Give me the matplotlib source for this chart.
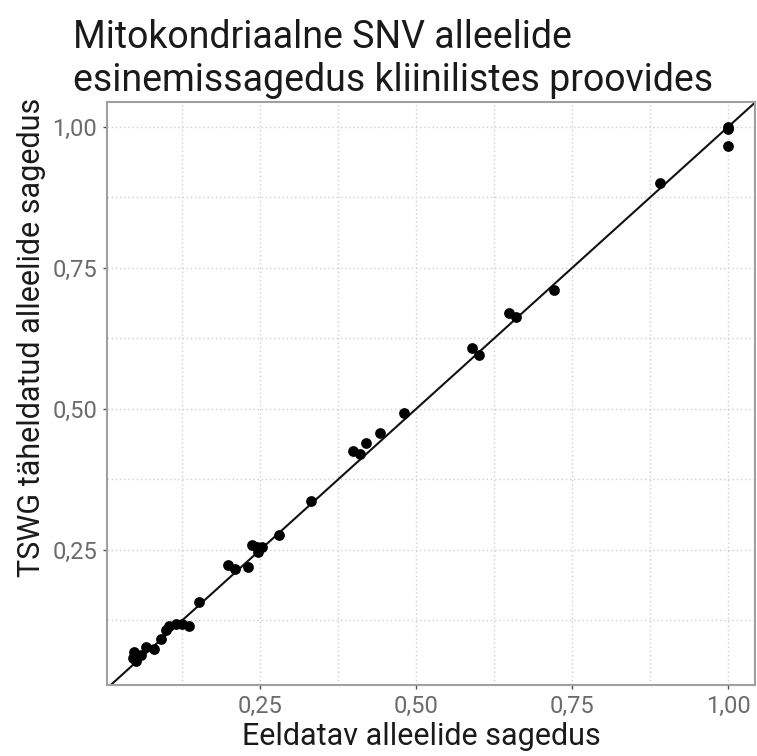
import numpy as np
import matplotlib.pyplot as plt

plt.rcParams['font.family'] = ['Roboto', 'DejaVu Sans']

expected = [1.000, 1.000, 1.000, 0.890, 0.720, 0.648, 0.660, 0.590, 0.600,
            0.481, 0.441, 0.420, 0.398, 0.410, 0.331, 0.280, 0.237, 0.244,
            0.253, 0.246, 0.230, 0.198, 0.210, 0.152, 0.135, 0.125, 0.115,
            0.103, 0.099, 0.091, 0.080, 0.066, 0.058, 0.052, 0.048, 0.050,
            0.046]
observed = [1.000, 0.997, 0.966, 0.900, 0.711, 0.669, 0.662, 0.607, 0.596,
            0.492, 0.457, 0.440, 0.425, 0.419, 0.336, 0.276, 0.259, 0.254,
            0.254, 0.246, 0.220, 0.223, 0.216, 0.157, 0.114, 0.119, 0.118,
            0.114, 0.107, 0.091, 0.074, 0.078, 0.063, 0.061, 0.068, 0.053,
            0.058]

ticks = [0.25, 0.50, 0.75, 1.00]
tick_labels = ['0,25', '0,50', '0,75', '1,00']
minor = [0.125, 0.375, 0.625, 0.875]

fig = plt.figure(figsize=(7.57, 7.56), dpi=100)
ax = fig.add_axes([107/757, 1 - 685/756, 648/757, 583/756])

ax.scatter(expected, observed, s=60, color='black', zorder=3, linewidths=0)
ax.axline((0, 0), slope=1, color='#111111', lw=1.5, zorder=2)

ax.set_xlim(0.004, 1.043)
ax.set_ylim(0.010, 1.044)
ax.set_xticks(ticks)
ax.set_xticklabels(tick_labels)
ax.set_yticks(ticks)
ax.set_yticklabels(tick_labels)
ax.set_xticks(minor, minor=True)
ax.set_yticks(minor, minor=True)

ax.grid(which='both', color='#cfcfcf', linestyle=(0, (1, 2)), lw=1.0, zorder=0)
ax.tick_params(which='major', length=3, width=1, color='#4d4d4d',
               labelcolor='#6b6b6b', labelsize=17, pad=4)
ax.tick_params(which='minor', length=0)
for sp in ax.spines.values():
    sp.set_color('#a0a0a0')
    sp.set_linewidth(1.5)

ax.set_xlabel('Eeldatav alleelide sagedus', fontsize=22, color='#1a1a1a')
ax.set_ylabel('TSWG täheldatud alleelide sagedus', fontsize=22, color='#1a1a1a')
ax.xaxis.set_label_coords(0.485, -0.064)
ax.yaxis.set_label_coords(-0.094, 0.597)

fig.text(73/757, 1 - 19/756, 'Mitokondriaalne SNV alleelide\nesinemissagedus kliinilistes proovides',
         fontsize=27, va='top', ha='left', color='#1a1a1a', linespacing=1.2)

fig.savefig('out.png', dpi=100)
